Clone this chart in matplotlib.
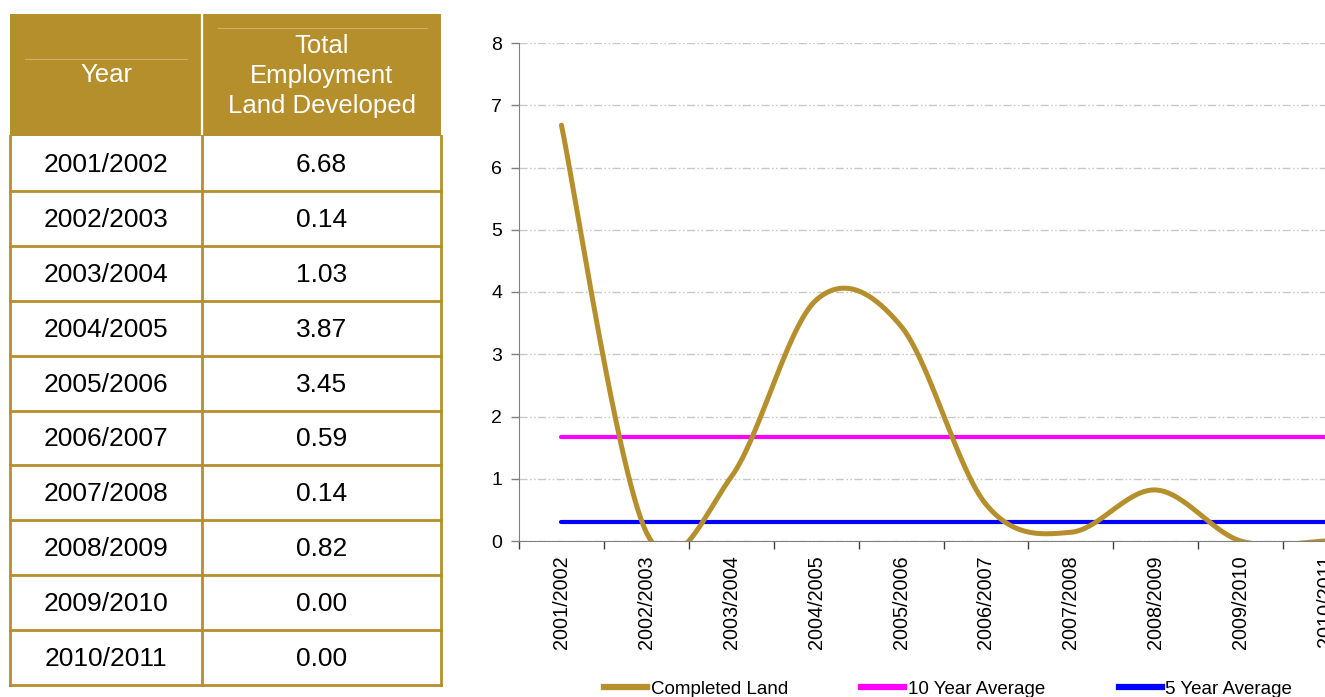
import numpy as np
import matplotlib
matplotlib.use("Agg")
import matplotlib.pyplot as plt
from matplotlib.patches import Rectangle
from matplotlib.lines import Line2D

plt.rcParams['font.family'] = ['Liberation Sans', 'DejaVu Sans']

years = ["2001/2002", "2002/2003", "2003/2004", "2004/2005", "2005/2006",
         "2006/2007", "2007/2008", "2008/2009", "2009/2010", "2010/2011"]
land = [6.68, 0.14, 1.03, 3.87, 3.45, 0.59, 0.14, 0.82, 0.00, 0.00]
avg10 = 1.67
avg5 = 0.31
header = ["Year", "Total\nEmployment\nLand Developed"]
series_names = ["Completed Land", "10 Year Average", "5 Year Average"]

GOLD = "#B68F2D"
W, H = 1325, 697
fig = plt.figure(figsize=(W / 100, H / 100), dpi=100)

# ---------------- Table (pixel coordinates) ----------------
tax = fig.add_axes([0, 0, 1, 1])
tax.set_xlim(0, W)
tax.set_ylim(H, 0)
tax.axis('off')
x0, xm, x1 = 10, 202, 441
y_head0, y_head1 = 14, 136
row_h = (685 - y_head1) / len(years)
tax.add_patch(Rectangle((x0, y_head0), x1 - x0, y_head1 - y_head0, facecolor=GOLD, edgecolor='none'))
tax.plot([xm, xm], [y_head0, y_head1 - 2], color='white', lw=1.6)
tax.plot([25, 187], [59, 59], color='#CDB06A', lw=0.8)
tax.plot([218, 427], [28, 28], color='#CDB06A', lw=0.8)
tax.text((x0 + xm) / 2, 75, header[0], color='white', fontsize=18.5, ha='center', va='center')
tax.text((xm + x1) / 2, 76, header[1], color='white', fontsize=18.5, ha='center', va='center',
         linespacing=1.3)
for i, (yr, v) in enumerate(zip(years, land)):
    yt = y_head1 + i * row_h
    yc = yt + row_h / 2 + 1.5
    tax.text((x0 + xm) / 2, yc, yr, fontsize=19, ha='center', va='center', color='black')
    tax.text((xm + x1) / 2, yc, f"{v:.2f}", fontsize=19, ha='center', va='center', color='black')
    tax.plot([x0, x1], [yt + row_h, yt + row_h], color=GOLD, lw=2.0, solid_capstyle='projecting')
tax.plot([x0, x0], [y_head1, 685], color=GOLD, lw=2.0)
tax.plot([x1, x1], [y_head1, 685], color=GOLD, lw=2.0)
tax.plot([xm, xm], [y_head1, 685], color=GOLD, lw=2.0)

# ---------------- Chart ----------------
ax_left, ax_right = 519, 519 + 84.9 * 10
ax_top, ax_bot = 43, 541
ax = fig.add_axes([ax_left / W, (H - ax_bot) / H, (ax_right - ax_left) / W, (ax_bot - ax_top) / H])
n = len(land)
xs = np.arange(n)


def catmull(x, y, steps=60):
    px = np.concatenate([[x[0]], x, [x[-1]]]).astype(float)
    py = np.concatenate([[y[0]], y, [y[-1]]]).astype(float)
    outx, outy = [], []
    for i in range(1, len(px) - 2):
        p0, p1, p2, p3 = i - 1, i, i + 1, i + 2
        t = np.linspace(0, 1, steps)
        mx1 = (px[p2] - px[p0]) / 2
        mx2 = (px[p3] - px[p1]) / 2
        my1 = (py[p2] - py[p0]) / 2
        my2 = (py[p3] - py[p1]) / 2
        h00 = 2 * t**3 - 3 * t**2 + 1
        h10 = t**3 - 2 * t**2 + t
        h01 = -2 * t**3 + 3 * t**2
        h11 = t**3 - t**2
        outx.append(h00 * px[p1] + h10 * mx1 + h01 * px[p2] + h11 * mx2)
        outy.append(h00 * py[p1] + h10 * my1 + h01 * py[p2] + h11 * my2)
    return np.concatenate(outx), np.concatenate(outy)


sx, sy = catmull(xs, np.array(land))
ax.plot(sx, sy, color=GOLD, lw=3.6, solid_capstyle='round', zorder=4, label=series_names[0])
ax.plot([xs[0], xs[-1] + 0.5], [avg10, avg10], color='#FF00FF', lw=3.0, solid_capstyle='round',
        zorder=3, label=series_names[1])
ax.plot([xs[0], xs[-1] + 0.5], [avg5, avg5], color='#0000FF', lw=3.0, solid_capstyle='round',
        zorder=3, label=series_names[2])

ax.set_xlim(-0.5, n - 0.5)
ax.set_ylim(0, 8)
ax.set_yticks(range(0, 9))
ax.tick_params(axis='y', labelsize=14, length=6, color='#808080', width=1, pad=6)
ax.set_xticks(xs)
ax.set_xticklabels(years, rotation=90, fontsize=14.3)
ax.tick_params(axis='x', length=0, pad=10)
ax.set_xticks(np.arange(-0.5, n, 1), minor=True)
ax.tick_params(axis='x', which='minor', length=6, color='#404040', width=1)
ax.grid(axis='y', color='#C8C8C8', lw=1.0, linestyle=(0, (5.8, 1.8, 1.1, 1.8, 1.1, 1.8)))
ax.set_axisbelow(True)
for s in ['top', 'right']:
    ax.spines[s].set_visible(False)
ax.spines['left'].set_color('#808080')
ax.spines['bottom'].set_color('#808080')

handles = [Line2D([], [], color=GOLD, lw=4.5),
           Line2D([], [], color='#FF00FF', lw=4.5),
           Line2D([], [], color='#0000FF', lw=4.5)]
fig.legend(handles, series_names, loc='center left', bbox_to_anchor=(604 / W, (H - 689) / H),
           ncol=3, frameon=False, fontsize=13.5, handlelength=2.3, handletextpad=0.2,
           columnspacing=3.9, borderpad=0, borderaxespad=0)

fig.savefig("out.png", dpi=100)
